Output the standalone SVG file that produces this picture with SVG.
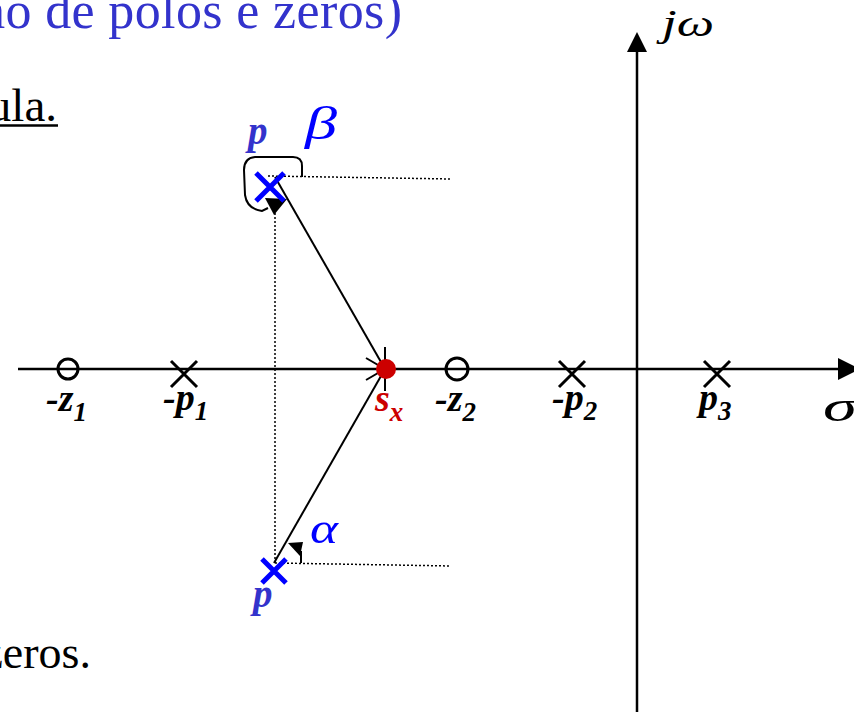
<svg xmlns="http://www.w3.org/2000/svg" width="854" height="712" viewBox="0 0 854 712">
<style>
.serif{font-family:"Liberation Serif","Times New Roman",serif;}
.lbl{font-family:"Liberation Serif","Times New Roman",serif;font-weight:bold;font-style:italic;font-size:38px;fill:#000;}
.sub{font-size:27px;}
.red{fill:#cc0000;}
.pl{fill:#3333cc;font-size:39px;}
.xk{stroke:#000;stroke-width:3;fill:none;}
.xb{stroke:#0000ff;stroke-width:5;fill:none;}
.zero{stroke:#000;stroke-width:3;fill:none;}
.axis{stroke:#000;stroke-width:2.5;fill:none;}
.ray{stroke:#000;stroke-width:2;fill:none;}
.dotl{stroke:#000;stroke-width:1.5;stroke-dasharray:2 2;fill:none;}
.greek{font-family:"Liberation Serif","Times New Roman",serif;font-style:italic;fill:#0000ff;}
</style>
<rect width="854" height="712" fill="#fff"/>
<text class="serif" x="-18" y="28" font-size="52" fill="#3333cc" textLength="420" lengthAdjust="spacing">ão de pólos e zeros)</text>
<text class="serif" x="57" y="121" font-size="47" text-anchor="end">ula.</text>
<line x1="0" y1="125.5" x2="58" y2="125.5" stroke="#000" stroke-width="2.5"/>
<text class="serif" x="91" y="668" font-size="46" text-anchor="end">zeros.</text>

<g id="axes">
<line class="axis" x1="18" y1="369" x2="840" y2="369"/>
<polygon points="838,358 860,369 838,380"/>
<line class="axis" x1="637" y1="712" x2="637" y2="50"/>
<polygon points="627,52 637,32 647,52"/>
<text class="serif" x="662" y="36" font-size="38" font-style="italic" textLength="52" lengthAdjust="spacingAndGlyphs">jω</text>
<text class="serif" x="823" y="421" font-size="44" font-style="italic" textLength="34" lengthAdjust="spacingAndGlyphs">σ</text>
</g>

<g id="connectors">
<line class="dotl" x1="268" y1="176" x2="451" y2="179"/>
<line class="dotl" x1="275" y1="205" x2="275" y2="563"/>
<line class="dotl" x1="275" y1="563" x2="451" y2="566"/>
<line class="ray" x1="275" y1="177" x2="385" y2="369"/>
<polyline class="ray" points="366,358 385,369 385,347"/>
<line class="ray" x1="274" y1="563" x2="385" y2="369"/>
<polyline class="ray" points="366,380 385,369 385,391"/>
<path class="ray" d="M302 177 L302 166 Q302 157 293 157 L255 157 Q244 158 244 170 L245 195 Q247 209 262 211 L268 208"/>
<polygon points="287,199 265,198 274,215"/>
<path class="ray" d="M301 563 L301 551"/>
<polygon points="288,543 303,542 300,556"/>
<text class="greek" x="305" y="139" font-size="46" textLength="32" lengthAdjust="spacingAndGlyphs">β</text>
<text class="greek" x="310" y="543" font-size="44" textLength="28" lengthAdjust="spacingAndGlyphs">α</text>
</g>

<g id="z1">
<circle class="zero" cx="68" cy="369" r="10"/>
<text class="lbl" x="46" y="411">-z<tspan class="sub" dy="10">1</tspan></text>
</g>
<g id="p1">
<path class="xk" d="M171 361 L197 387 M197 361 L171 387"/>
<text class="lbl" x="163" y="410">-p<tspan class="sub" dy="10">1</tspan></text>
</g>
<g id="sx">
<circle class="red" cx="386" cy="369" r="10"/>
<text class="lbl red" x="375" y="411">s<tspan class="sub" dy="10">x</tspan></text>
</g>
<g id="z2">
<circle class="zero" cx="457" cy="369" r="11"/>
<text class="lbl" x="435" y="411">-z<tspan class="sub" dy="10">2</tspan></text>
</g>
<g id="p2">
<path class="xk" d="M559 361 L585 387 M585 361 L559 387"/>
<text class="lbl" x="552" y="410">-p<tspan class="sub" dy="10">2</tspan></text>
</g>
<g id="p3">
<path class="xk" d="M704 361 L730 387 M730 361 L704 387"/>
<text class="lbl" x="699" y="410">p<tspan class="sub" dy="10">3</tspan></text>
</g>
<g id="p_upper">
<path class="xb" d="M256 173 L284 201 M284 173 L256 201"/>
<text class="lbl pl" x="248" y="144">p</text>
</g>
<g id="p_lower">
<path class="xb" d="M262 559 L286 583 M286 559 L262 583"/>
<text class="lbl pl" x="253" y="607">p</text>
</g>
</svg>
